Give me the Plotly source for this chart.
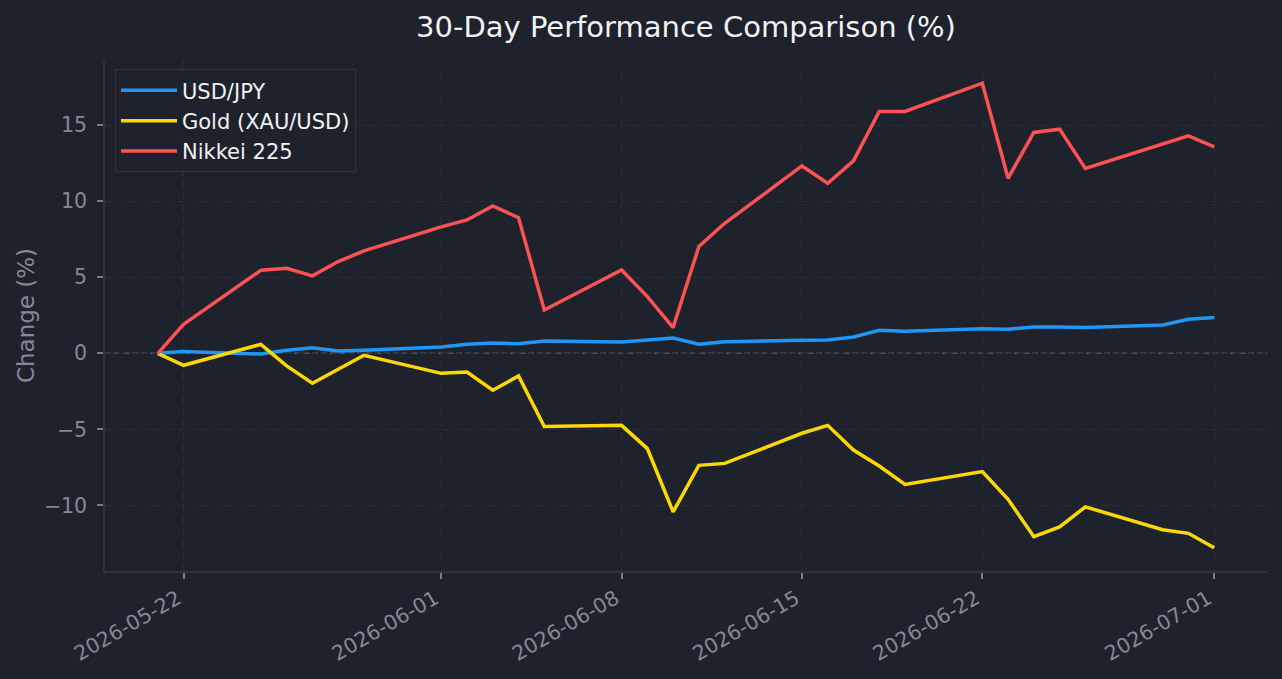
import pandas as pd
import plotly.graph_objects as go

dates = ["2026-05-21", "2026-05-22", "2026-05-25", "2026-05-26", "2026-05-27", "2026-05-28",
         "2026-05-29", "2026-06-01", "2026-06-02", "2026-06-03", "2026-06-04", "2026-06-05",
         "2026-06-08", "2026-06-09", "2026-06-10", "2026-06-11", "2026-06-12", "2026-06-15",
         "2026-06-16", "2026-06-17", "2026-06-18", "2026-06-19", "2026-06-22", "2026-06-23",
         "2026-06-24", "2026-06-25", "2026-06-26", "2026-06-29", "2026-06-30", "2026-07-01"]

usdjpy = [0.0, 0.12, -0.05, 0.2, 0.37, 0.15, 0.2, 0.42, 0.6, 0.68, 0.63, 0.8,
          0.75, 0.9, 1.0, 0.59, 0.76, 0.86, 0.88, 1.07, 1.51, 1.45, 1.62, 1.58,
          1.73, 1.73, 1.7, 1.86, 2.24, 2.35]

gold = [0.0, -0.79, 0.59, -0.83, -1.97, -1.05, -0.13, -1.32, -1.23, -2.43, -1.49, -4.82,
        -4.74, -6.27, -10.43, -7.37, -7.24, -5.26, -4.74, -6.36, -7.41, -8.62, -7.78, -9.6,
        -12.06, -11.42, -10.1, -11.6, -11.84, -12.79]

nikkei = [0.0, 1.9, 5.46, 5.59, 5.09, 6.03, 6.73, 8.31, 8.77, 9.69, 8.92, 2.85,
          5.48, 3.73, 1.69, 7.02, 8.55, 12.32, 11.18, 12.65, 15.9, 15.9, 17.76, 11.51,
          14.52, 14.74, 12.15, 13.75, 14.3, 13.58]

series_names = ["USD/JPY", "Gold (XAU/USD)", "Nikkei 225"]
series_colors = ["#2196F3", "#FFD700", "#FF5252"]

x_tick_dates = ["2026-05-22", "2026-06-01", "2026-06-08", "2026-06-15", "2026-06-22", "2026-07-01"]

BG = "#1e222d"
GRID = "#2a2e39"
TXT = "#868993"
FONT = "DejaVu Sans"

x = pd.to_datetime(dates)
fig = go.Figure()
for i, (name, vals, col) in enumerate(zip(series_names, [usdjpy, gold, nikkei], series_colors)):
    fig.add_trace(go.Scatter(x=x, y=vals, mode="lines", name=name,
                             line=dict(color=col, width=3.5), legendgroup=f"g{i}"))

# matplotlib-like 5% margins
xmin, xmax = x.min(), x.max()
xpad = (xmax - xmin) * 0.05
allv = usdjpy + gold + nikkei
ymin, ymax = min(allv), max(allv)
ypad = (ymax - ymin) * 0.05

fig.add_shape(type="line", xref="paper", x0=0, x1=1, yref="y", y0=0, y1=0,
              line=dict(color="#50545f", width=1.6, dash="6px,3px"), layer="below")

fig.update_layout(
    width=1282, height=679,
    paper_bgcolor=BG, plot_bgcolor=BG,
    margin=dict(l=105, r=15, t=60, b=108),
    font=dict(family=FONT, color=TXT, size=20),
    title=dict(text="30-Day Performance Comparison (%)", x=0.5, xref="paper",
               y=1 - 27 / 679, yref="container", yanchor="middle", xanchor="center",
               font=dict(family=FONT, size=29, color="#f2f2f2")),
    showlegend=True,
    legend=dict(x=0.0086, y=0.982, xanchor="left", yanchor="top",
                bgcolor=BG, bordercolor="#30343f", borderwidth=1,
                font=dict(family=FONT, size=21, color="#f2f2f2"),
                tracegroupgap=0, itemwidth=56),
    xaxis=dict(type="date", range=[xmin - xpad, xmax + xpad],
               tickvals=pd.to_datetime(x_tick_dates), ticktext=x_tick_dates,
               tickangle=-30, ticks="outside", ticklen=6, tickwidth=1.5, tickcolor="#7a7d87",
               ticklabelshift=-6,
               showgrid=True, gridcolor=GRID, griddash="8px,4px", gridwidth=1,
               showline=True, linecolor="#2e323d", linewidth=1.5, zeroline=False,
               tickfont=dict(family=FONT, size=20.5, color=TXT)),
    yaxis=dict(range=[ymin - ypad, ymax + ypad], dtick=5, tick0=0,
               ticks="outside", ticklen=6, tickwidth=1.5, tickcolor="#7a7d87",
               showgrid=True, gridcolor=GRID, griddash="8px,4px", gridwidth=1,
               showline=True, linecolor="#2e323d", linewidth=1.5, zeroline=False,
               ticklabelstandoff=6,
               tickfont=dict(family=FONT, size=20.5, color=TXT),
               title=dict(text="Change (%)", font=dict(family=FONT, size=23, color=TXT), standoff=3)),
)

fig.write_html("out.html")
